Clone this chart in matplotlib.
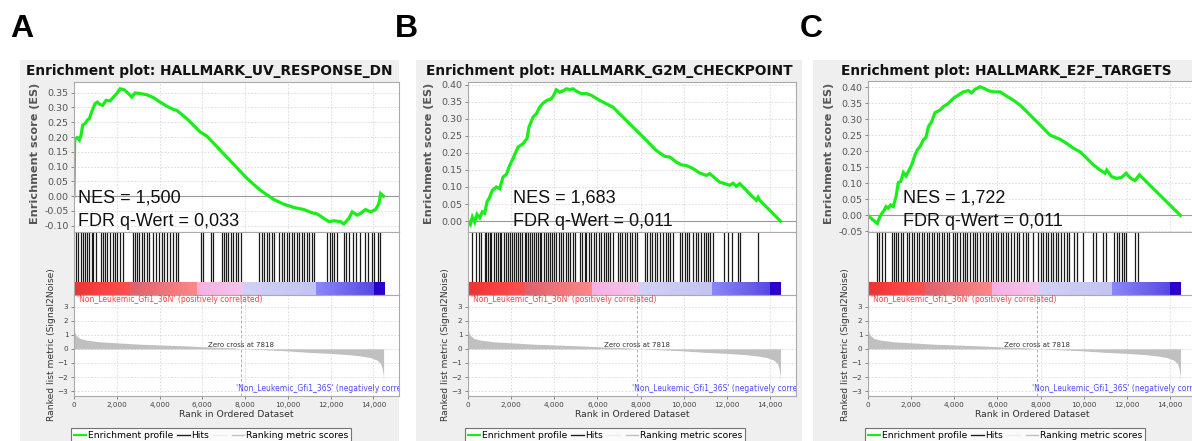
import matplotlib
matplotlib.use('Agg')
import matplotlib.pyplot as plt
from matplotlib.lines import Line2D
from matplotlib.colors import to_rgb
import numpy as np

W, H = 1192, 441  # figure size in pixels (dpi 100)

letters = ['A', 'B', 'C']
titles = ['HALLMARK_UV_RESPONSE_DN', 'HALLMARK_G2M_CHECKPOINT', 'HALLMARK_E2F_TARGETS']
nes = ['1,500', '1,683', '1,722']
fdr = ['0,033', '0,011', '0,011']

# running enrichment score (rank, ES)
es_rank_a = [0, 30, 47, 156, 250, 328, 406, 515, 625, 718, 828, 984, 1093, 1218, 1343, 1500, 1687, 1843, 1999, 2156,
             2343, 2546, 2702, 2858, 3093, 3405, 3718, 4030, 4342, 4655, 4811, 5280, 5904, 6217, 6842, 7466, 8091, 8716,
             9341, 9809, 10278, 10747, 11137, 11371, 11918, 12152, 12465, 12621, 12855, 13011, 13246, 13402, 13636,
             13870, 14105, 14261, 14339, 14480]
es_val_a = [0.0, 0.18, 0.195, 0.198, 0.19, 0.206, 0.24, 0.245, 0.257, 0.262, 0.285, 0.313, 0.318, 0.31, 0.307, 0.324,
            0.322, 0.335, 0.347, 0.363, 0.36, 0.347, 0.335, 0.349, 0.347, 0.343, 0.333, 0.318, 0.304, 0.293, 0.29, 0.262,
            0.217, 0.203, 0.155, 0.108, 0.06, 0.02, -0.011, -0.027, -0.038, -0.045, -0.056, -0.06, -0.086, -0.083,
            -0.086, -0.094, -0.075, -0.053, -0.064, -0.058, -0.045, -0.053, -0.045, -0.025, 0.009, 0.0]

es_rank_b = [0, 108, 201, 309, 417, 541, 664, 773, 881, 1004, 1128, 1313, 1468, 1622, 1777, 1931, 2117, 2318, 2549,
             2735, 2827, 3013, 3167, 3322, 3476, 3662, 3863, 3971, 4094, 4249, 4434, 4558, 4712, 4867, 5021, 5253, 5485,
             5717, 6103, 6412, 6721, 7184, 7648, 8266, 8729, 9116, 9347, 9656, 9888, 10120, 10429, 10738, 11047, 11201,
             11356, 11665, 11897, 12128, 12283, 12437, 12592, 12824, 13210, 13364, 13442, 13519, 14480]
es_val_b = [0.0, -0.01, 0.012, -0.003, 0.02, 0.01, 0.027, 0.023, 0.056, 0.07, 0.09, 0.1, 0.095, 0.129, 0.137, 0.163,
            0.188, 0.217, 0.227, 0.242, 0.276, 0.305, 0.315, 0.334, 0.346, 0.354, 0.359, 0.369, 0.385, 0.378, 0.383,
            0.388, 0.386, 0.388, 0.381, 0.374, 0.374, 0.369, 0.354, 0.344, 0.334, 0.305, 0.276, 0.237, 0.207, 0.19,
            0.188, 0.173, 0.165, 0.163, 0.154, 0.141, 0.134, 0.139, 0.131, 0.114, 0.11, 0.105, 0.111, 0.102, 0.11,
            0.095, 0.07, 0.061, 0.07, 0.061, 0.0]

es_rank_c = [0, 216, 433, 525, 633, 742, 834, 942, 1051, 1174, 1298, 1406, 1514, 1638, 1761, 1869, 2024, 2178, 2287,
             2410, 2565, 2688, 2796, 2951, 3105, 3337, 3492, 3723, 3955, 4187, 4419, 4650, 4805, 4959, 5191, 5377, 5577,
             5809, 6118, 6350, 6736, 7045, 7509, 7972, 8436, 8899, 9208, 9517, 9826, 10135, 10444, 10753, 10985, 11062,
             11294, 11526, 11758, 11958, 12175, 12375, 12453, 12576, 14480]
es_val_c = [0.0, -0.013, -0.025, -0.008, 0.006, 0.015, 0.028, 0.023, 0.033, 0.028, 0.059, 0.103, 0.106, 0.134, 0.123,
            0.137, 0.158, 0.189, 0.205, 0.215, 0.236, 0.244, 0.277, 0.293, 0.321, 0.329, 0.34, 0.35, 0.366, 0.376,
            0.386, 0.39, 0.383, 0.394, 0.402, 0.397, 0.39, 0.386, 0.386, 0.376, 0.36, 0.345, 0.314, 0.283, 0.251,
            0.238, 0.225, 0.21, 0.199, 0.179, 0.158, 0.142, 0.132, 0.142, 0.121, 0.116, 0.119, 0.132, 0.116, 0.109,
            0.116, 0.127, 0.0]

# ranks of gene set members (hits)
hits_a = [94, 203, 312, 406, 515, 624, 718, 827, 905, 1030, 1248, 1342, 1451, 1560, 1685, 1810, 1919, 2028, 2153,
          2278, 2746, 2855, 2964, 3058, 3167, 3276, 3401, 3526, 3682, 3838, 3994, 4103, 4212, 4368, 4493, 4649, 4774,
          4883, 5928, 6022, 6396, 6490, 6911, 7020, 7114, 7223, 7332, 7457, 7582, 7691, 7800, 8674, 8783, 8892, 9017,
          9142, 9251, 9360, 9610, 9719, 9828, 9953, 10078, 10187, 10296, 10421, 10546, 10655, 10764, 10889, 11014,
          11123, 11232, 11825, 11950, 12059, 12168, 12293, 12605, 12730, 12839, 13042, 13198, 13354, 13619, 13728,
          13931, 14040, 14196, 14321]
hits_b = [201, 355, 510, 618, 773, 850, 927, 1004, 1082, 1190, 1282, 1391, 1468, 1545, 1653, 1746, 1854, 1931, 2024,
          2117, 2209, 2318, 2426, 2518, 2627, 2704, 2781, 2889, 2982, 3075, 3167, 3245, 3322, 3399, 3507, 3600, 3708,
          3816, 3909, 3986, 4094, 4218, 4326, 4403, 4527, 4635, 4743, 4867, 4944, 5176, 5299, 5408, 5485, 5608, 5717,
          5825, 5948, 6072, 6180, 6288, 6381, 6489, 6597, 6721, 6953, 7061, 7154, 7262, 7370, 7493, 7617, 7725, 7833,
          8189, 8297, 8420, 8544, 8652, 8760, 8884, 9038, 9162, 9270, 9378, 9502, 9811, 9934, 10043, 10151, 10243,
          10429, 10552, 10661, 10815, 10923, 11016, 11124, 11232, 11356, 11850, 12051, 12252, 12515, 12623, 13442]
hits_c = [433, 525, 633, 788, 1097, 1205, 1298, 1406, 1514, 1607, 1823, 1916, 2024, 2132, 2256, 2379, 2487, 2596,
          2719, 2843, 2951, 3059, 3183, 3306, 3414, 3523, 3646, 3770, 3924, 4032, 4141, 4264, 4388, 4496, 4604, 4728,
          4851, 4959, 5068, 5191, 5315, 5469, 5577, 5686, 5809, 5933, 6041, 6149, 6273, 6396, 6504, 6613, 6767, 6891,
          7014, 7200, 7323, 7431, 7632, 7895, 8003, 8127, 8250, 8358, 8467, 8590, 8714, 8822, 8930, 9085, 9208, 9332,
          9548, 9703, 9950, 10444, 10568, 10908, 11031, 11402, 11526, 11649, 11757, 11866, 11958, 12375, 12530]

# ranked list metric (Signal2Noise), same dataset for all three sets
metric_rank = [0, 31, 94, 281, 594, 1218, 2000, 3093, 4342, 5280, 6217, 7466, 7818, 9028, 9966, 10903, 11840, 12778,
               13402, 13870, 14183, 14339, 14417, 14464, 14480]
metric_val = [1.69, 1.2, 0.98, 0.74, 0.62, 0.5, 0.43, 0.33, 0.26, 0.21, 0.14, 0.07, 0.0, -0.07, -0.14, -0.24, -0.31,
              -0.40, -0.5, -0.62, -0.81, -1.05, -1.4, -1.88, -2.55]
zero_cross = 7818

# heat bar under the hits
bar_edges = [0, 2625, 5765, 7920, 11295, 14015, 14484]
bar_left = ['#ec3434', '#e0606c', '#f6b0e2', '#d0d0f8', '#8888fa', '#2a00c8']
bar_right = ['#ff5050', '#ff8888', '#f6c4ec', '#c4c4f4', '#5848e6', '#2a00c8']

es_ranks = [es_rank_a, es_rank_b, es_rank_c]
es_vals = [es_val_a, es_val_b, es_val_c]
hits = [hits_a, hits_b, hits_c]

# pixel layout of the three panels
panel_box = [(20, 399), (416, 802), (813, 1199)]
axes_x = [(74, 399), (468, 796), (868, 1196)]
es_top = [82, 82, 81]
es_ylim = [(-0.121, 0.386), (-0.032, 0.408), (-0.0516, 0.42)]
text_x = [78, 513, 903]
letter_x = [10, 395, 800]

GREEN = '#1aee1a'
SPINE = '#aaaaaa'
GRID = '#d8d8d8'


def frac(x0, y0, x1, y1):
    return [x0 / W, 1 - y1 / H, (x1 - x0) / W, (y1 - y0) / H]


def style(ax):
    for s in ax.spines.values():
        s.set_color(SPINE)
        s.set_linewidth(0.8)


fig = plt.figure(figsize=(W / 100, H / 100), dpi=100)
fig.patch.set_facecolor('white')

xticks = np.arange(0, 14001, 2000)

for i in range(3):
    bx0, bx1 = panel_box[i]
    x0, x1 = axes_x[i]
    xmax = 15200

    # grey panel background
    fig.add_artist(plt.Rectangle((bx0 / W, 0), (bx1 - bx0) / W, 1 - 60 / H, transform=fig.transFigure,
                                 facecolor='#efefef', edgecolor='none', zorder=-5))
    fig.text((bx0 + bx1) / 2 / W, 1 - 74.5 / H, f'Enrichment plot: {titles[i]}', ha='center', va='baseline',
             fontsize=9.9, fontweight='bold', color='#111111')
    fig.text(letter_x[i] / W, 1 - 37 / H, letters[i], ha='left', va='baseline', fontsize=23,
             fontweight='bold', family='Liberation Sans')

    # enrichment score
    ax = fig.add_axes(frac(x0, es_top[i], x1, 232))
    style(ax)
    ax.plot(es_ranks[i], es_vals[i], color=GREEN, lw=2.3, solid_joinstyle='miter')
    ax.axhline(0, color='#999999', lw=0.8, zorder=1)
    ax.set_xlim(0, xmax)
    ax.set_yticks(np.arange(-0.10, 0.401, 0.05))
    ax.set_ylim(*es_ylim[i])
    ax.yaxis.set_major_formatter(plt.FuncFormatter(lambda v, p: f'{v:.2f}'.replace('-0.00', '0.00')))
    ax.set_xticks(xticks)
    ax.tick_params(axis='x', length=0, labelbottom=False)
    ax.tick_params(axis='y', length=2, width=0.6, color='#777777', labelsize=6.8, labelcolor='#555555', pad=2)
    ax.grid(True, ls=(0, (2, 2)), color=GRID, lw=0.6)
    ax.set_axisbelow(True)
    fig.text((x0 - 39) / W, 1 - 153 / H, 'Enrichment score (ES)', rotation=90, ha='center', va='center',
             fontsize=8.1, fontweight='bold', color='#555555')

    fig.text(text_x[i] / W, 1 - 202.5 / H, f'NES = {nes[i]}', family='Liberation Sans', fontsize=13,
             va='baseline', ha='left', color='#111111')
    fig.text(text_x[i] / W, 1 - 225.5 / H, f'FDR q-Wert = {fdr[i]}', family='Liberation Sans', fontsize=13,
             va='baseline', ha='left', color='#111111')

    # hits and heat bar
    axh = fig.add_axes(frac(x0, 232, x1, 295))
    style(axh)
    bar_h = 13 / 63
    axh.vlines(hits[i], bar_h, 1, color='#1a1a1a', lw=0.9)
    for k in range(len(bar_left)):
        c0 = np.array(to_rgb(bar_left[k]))
        c1 = np.array(to_rgb(bar_right[k]))
        t = np.linspace(0, 1, 64)[:, None]
        grad = (c0 * (1 - t) + c1 * t)[None, :, :]
        axh.imshow(grad, extent=[bar_edges[k], bar_edges[k + 1], 0, bar_h], aspect='auto',
                   interpolation='bilinear', zorder=2)
    axh.set_xlim(0, xmax)
    axh.set_ylim(0, 1)
    axh.set_xticks([])
    axh.set_yticks([])

    # ranked list metric
    axr = fig.add_axes(frac(x0, 295, x1, 396))
    style(axr)
    axr.fill_between(metric_rank, metric_val, 0, color='#c0c0c0', lw=0, zorder=2)
    axr.axvline(zero_cross, color='#b0b0b0', lw=0.7, ls=(0, (3, 2)), zorder=1)
    axr.text(zero_cross, 0.27, f'Zero cross at {zero_cross}', ha='center', va='center', fontsize=5,
             color='#333333', zorder=3)
    axr.text(0.01, 3.48, "'Non_Leukemic_Gfi1_36N' (positively correlated)", ha='left', va='center',
             fontsize=5.5, color='#f24444', transform=axr.get_yaxis_transform(), zorder=3)
    axr.text(0.5, -2.83, "'Non_Leukemic_Gfi1_36S' (negatively correlated)", ha='left', va='center',
             fontsize=5.5, color='#4a4aff', transform=axr.get_yaxis_transform(), clip_on=True, zorder=3)
    axr.set_xlim(0, xmax)
    axr.set_ylim(-3.35, 3.83)
    axr.set_yticks(range(-3, 4))
    axr.set_xticks(xticks)
    axr.xaxis.set_major_formatter(plt.FuncFormatter(lambda v, p: f'{v:,.0f}'))
    axr.tick_params(length=2, width=0.6, color='#777777', labelsize=5.2, labelcolor='#444444', pad=2)
    axr.grid(True, ls=(0, (2, 2)), color=GRID, lw=0.6)
    axr.set_axisbelow(True)
    axr.set_xlabel('Rank in Ordered Dataset', fontsize=6.7, color='#333333', labelpad=2)
    fig.text((x0 - 22) / W, 1 - 345 / H, 'Ranked list metric (Signal2Noise)', rotation=90, ha='center',
             va='center', fontsize=6.6, color='#333333')

    handles = [Line2D([], [], color=GREEN, lw=1.5), Line2D([], [], color='#222222', lw=1),
               Line2D([], [], color='#eeeeee', lw=1), Line2D([], [], color='#c0c0c0', lw=1)]
    labels = ['Enrichment profile', 'Hits', '', 'Ranking metric scores']
    leg = fig.legend(handles, labels, loc='upper left', bbox_to_anchor=((x0 - 3) / W, 1 - 428 / H), ncol=4,
                     fontsize=6.6, frameon=True, fancybox=False, edgecolor='#555555', borderpad=0.3,
                     handlelength=1.35, handletextpad=0.2, columnspacing=0.45, borderaxespad=0)
    leg.get_frame().set_linewidth(0.8)

fig.savefig('out.png', dpi=100)
